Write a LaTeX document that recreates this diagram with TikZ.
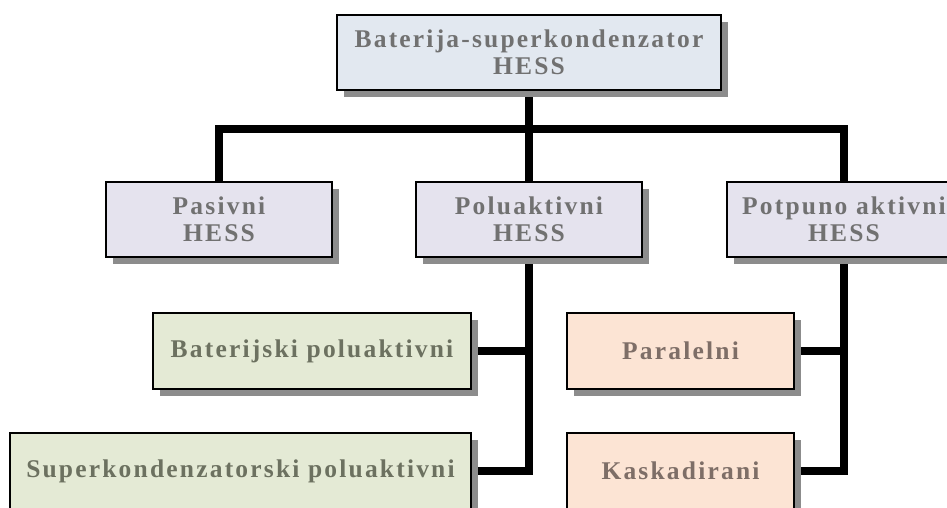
\documentclass[tikz,border=0pt]{standalone}
\usepackage{fontspec}
\setmainfont{Liberation Serif}[LetterSpace=8.6]
\usepackage{xcolor}
\usetikzlibrary{shadows,backgrounds}

\definecolor{topfill}{HTML}{E2E8F0}
\definecolor{midfill}{HTML}{E5E3EE}
\definecolor{greenfill}{HTML}{E4EAD5}
\definecolor{peachfill}{HTML}{FCE4D4}
\definecolor{shadowgray}{HTML}{8C8C8C}
\definecolor{txtgray}{HTML}{717171}
\definecolor{txtgreen}{HTML}{6C7160}
\definecolor{txtpeach}{HTML}{7E6E67}

\begin{document}
\begin{tikzpicture}[
  x=1pt, y=1pt,
  box/.style={rectangle, draw, line width=1.3pt, inner sep=0pt, align=center,
    minimum height=75pt, text=txtgray,
    font=\fontsize{25.5pt}{26.5pt}\selectfont\bfseries,
    drop shadow={shadow xshift=7pt, shadow yshift=-7pt, fill=shadowgray, opacity=1}},
  toplevel/.style={box, fill=topfill, minimum width=384pt},
  kind/.style={box, fill=midfill, minimum width=226pt},
  subgreen/.style={box, fill=greenfill, text=txtgreen, minimum height=76pt},
  subpeach/.style={box, fill=peachfill, text=txtpeach, minimum height=76pt, minimum width=227pt},
  conn/.style={line width=8pt, line join=miter}
]
\useasboundingbox (0,0) rectangle (947,-508);
\clip (0,0) rectangle (947,-508);

% top
\node[toplevel] (hess) at (529,-52.5) {Baterija-superkondenzator\\HESS};

% second level
\node[kind] (pasivni) at (219,-219.5) {Pasivni\\HESS};
\node[kind] (polu) at (529,-219.5) {Poluaktivni\\HESS};
\node[kind, minimum width=234pt] (potpuno) at (844,-219.5) {Potpuno aktivni\\HESS};

% semi-active variants
\node[subgreen, minimum width=318pt] (batpolu) at (312,-351) {Baterijski poluaktivni};
\node[subgreen, minimum width=461pt] (superpolu) at (240.5,-471) {Superkondenzatorski poluaktivni};

% fully active variants
\node[subpeach] (paralelni) at (680.5,-351) {Paralelni};
\node[subpeach] (kaskadirani) at (680.5,-471) {Kaskadirani};

\begin{pgfonlayer}{background}
\coordinate (bus) at (0,-129);
\draw[conn] (hess.south) -- (hess.south |- bus);
\draw[conn] (pasivni.north) -- (pasivni.north |- bus) -- (potpuno.north |- bus) -- (potpuno.north);
\draw[conn] (polu.north |- bus) -- (polu.north);
\draw[conn] (polu.south) |- (superpolu.east);
\draw[conn] (batpolu.east) -- (batpolu.east -| polu.south);
\draw[conn] (potpuno.south) |- (kaskadirani.east);
\draw[conn] (paralelni.east) -- (paralelni.east -| potpuno.south);
\end{pgfonlayer}

\end{tikzpicture}
\end{document}
